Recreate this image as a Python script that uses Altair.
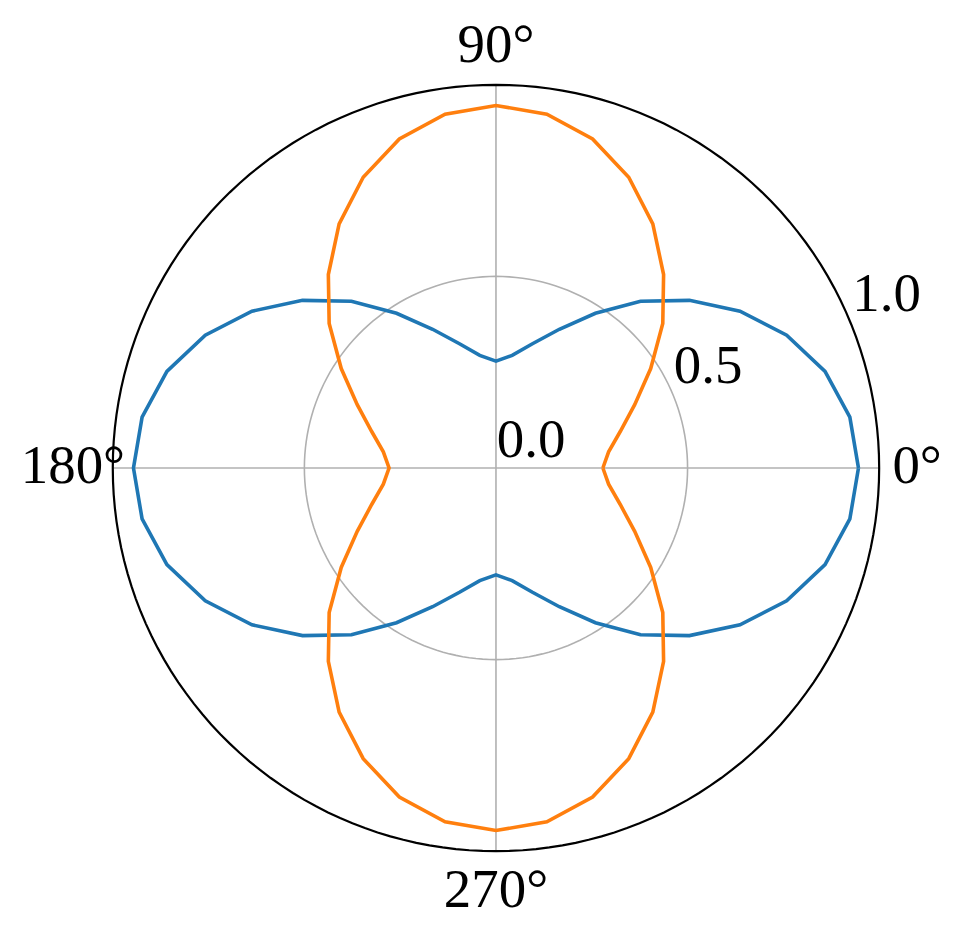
import altair as alt
import pandas as pd
import numpy as np

# angles of the sampled points (degrees), 44 intervals round the circle
theta_deg = list(np.linspace(0, 360, 45))

blue_r = [0.946, 0.933, 0.895, 0.834, 0.757, 0.668, 0.576, 0.480, 0.398, 0.338, 0.297, 0.279,
          0.297, 0.338, 0.398, 0.480, 0.576, 0.668, 0.757, 0.834, 0.895, 0.933, 0.946,
          0.933, 0.895, 0.834, 0.757, 0.668, 0.576, 0.480, 0.398, 0.338, 0.297, 0.279,
          0.297, 0.338, 0.398, 0.480, 0.576, 0.668, 0.757, 0.834, 0.895, 0.933, 0.946]

orange_r = [0.279, 0.297, 0.338, 0.398, 0.480, 0.576, 0.668, 0.757, 0.834, 0.895, 0.933, 0.946,
            0.933, 0.895, 0.834, 0.757, 0.668, 0.576, 0.480, 0.398, 0.338, 0.297, 0.279,
            0.297, 0.338, 0.398, 0.480, 0.576, 0.668, 0.757, 0.834, 0.895, 0.933, 0.946,
            0.933, 0.895, 0.834, 0.757, 0.668, 0.576, 0.480, 0.398, 0.338, 0.297, 0.279]

angle_labels = ["0°", "90°", "180°", "270°"]
angle_ticks = [0, 90, 180, 270]
radial_labels = ["0.0", "0.5", "1.0"]
radial_ticks = [0.0, 0.5, 1.0]

FONT = "Liberation Serif"
FS = 55

# series data
rows = []
for name, rs in (("blue", blue_r), ("orange", orange_r)):
    for i, (t, r) in enumerate(zip(theta_deg, rs)):
        rows.append({"series": name, "idx": i, "theta": t, "r": r})
df = pd.DataFrame(rows)

# grid circles
circ_angles = list(np.linspace(0, 360, 181))
circ_rows = []
for rr in (0.5, 1.0):
    for i, t in enumerate(circ_angles):
        circ_rows.append({"ring": rr, "idx": i, "theta": t, "r": rr})
circ = pd.DataFrame(circ_rows)

# radial grid lines
spoke_rows = []
for a in angle_ticks:
    for j, rr in enumerate((0.0, 1.0)):
        spoke_rows.append({"ang": a, "idx": j, "theta": a, "r": rr})
spokes = pd.DataFrame(spoke_rows)

# label positions (data coordinates)
lab_df = pd.DataFrame({
    "text": angle_labels,
    "x": [1.099, 0.0, -1.104, 0.0],
    "y": [-0.039, 1.060, -0.039, -1.146],
})
rlab_df = pd.DataFrame({
    "text": radial_labels,
    "x": [0.002, 0.464, 0.930],
    "y": [0.029, 0.221, 0.411],
})

xs = alt.Scale(domain=[-1, 1], nice=False, zero=False)
ys = alt.Scale(domain=[-1, 1], nice=False, zero=False)

def polar(chart):
    return chart.transform_calculate(
        px="datum.r * cos(datum.theta * PI / 180)",
        py="datum.r * sin(datum.theta * PI / 180)",
    )

X = alt.X("px:Q", scale=xs, axis=None)
Y = alt.Y("py:Q", scale=ys, axis=None)

inner_ring = polar(alt.Chart(circ).transform_filter("datum.ring == 0.5").mark_line(
    color="#b0b0b0", strokeWidth=1.6)).encode(x=X, y=Y, order="idx:Q")
spoke_layer = polar(alt.Chart(spokes).mark_line(color="#b0b0b0", strokeWidth=1.6)).encode(
    x=X, y=Y, detail="ang:N", order="idx:Q")
outer_ring = polar(alt.Chart(circ).transform_filter("datum.ring == 1").mark_line(
    color="black", strokeWidth=2.2)).encode(x=X, y=Y, order="idx:Q")

blue = polar(alt.Chart(df).transform_filter("datum.series == 'blue'").mark_line(
    color="#1f77b4", strokeWidth=3.6)).encode(x=X, y=Y, order="idx:Q")
orange = polar(alt.Chart(df).transform_filter("datum.series == 'orange'").mark_line(
    color="#ff7f0e", strokeWidth=3.6)).encode(x=X, y=Y, order="idx:Q")

angle_text = alt.Chart(lab_df).mark_text(
    font=FONT, fontSize=FS, align="center", baseline="alphabetic", color="black"
).encode(x=alt.X("x:Q", scale=xs, axis=None), y=alt.Y("y:Q", scale=ys, axis=None), text="text:N")

radial_text = alt.Chart(rlab_df).mark_text(
    font=FONT, fontSize=FS, align="left", baseline="alphabetic", color="black"
).encode(x=alt.X("x:Q", scale=xs, axis=None), y=alt.Y("y:Q", scale=ys, axis=None), text="text:N")

chart = alt.layer(inner_ring, spoke_layer, outer_ring, blue, orange, angle_text, radial_text).properties(
    width=768, height=768,
    autosize=alt.AutoSizeParams(type="none"),
    padding={"left": 105, "top": 76, "right": 78, "bottom": 70},
).configure_view(strokeWidth=0)

chart.save("out.html", embed_options={"renderer": "svg", "actions": False})
